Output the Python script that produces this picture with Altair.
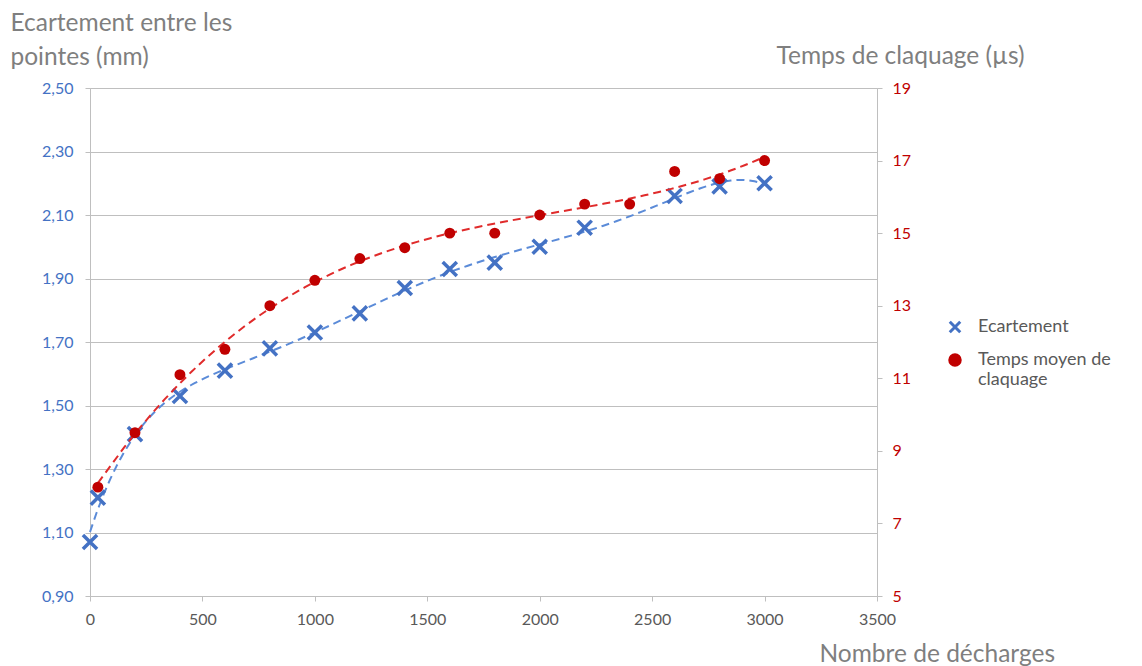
import altair as alt
import pandas as pd

# ---- data ----
x_ecart = [0, 35, 200, 400, 600, 800, 1000, 1200, 1400, 1600, 1800, 2000, 2200, 2600, 2800, 3000]
ecartement = [1.07, 1.21, 1.41, 1.53, 1.61, 1.68, 1.73, 1.79, 1.87, 1.93, 1.95, 2.00, 2.06, 2.16, 2.19, 2.20]

x_temps = [35, 200, 400, 600, 800, 1000, 1200, 1400, 1600, 1800, 2000, 2200, 2400, 2600, 2800, 3000]
temps = [8.0, 9.5, 11.1, 11.8, 13.0, 13.7, 14.3, 14.6, 15.0, 15.0, 15.5, 15.8, 15.8, 16.7, 16.5, 17.0]

series_names = ["Ecartement", "Temps moyen de claquage"]
x_ticks = [0, 500, 1000, 1500, 2000, 2500, 3000, 3500]
left_ticks = [0.9, 1.1, 1.3, 1.5, 1.7, 1.9, 2.1, 2.3, 2.5]
right_ticks = [5, 7, 9, 11, 13, 15, 17, 19]

BLUE = "#4472C4"
RED = "#C00000"
BLUE_LINE = "#5B8BD8"
RED_LINE = "#E02B2B"
GRAY_TXT = "#7f7f7f"
FONT = "Lato"

df_e = pd.DataFrame({"x": x_ecart, "value": ecartement, "series": series_names[0]})
df_t = pd.DataFrame({"x": x_temps, "value": temps, "series": series_names[1]})

XPATH = "M-1,-1L1,1M1,-1L-1,1"

legend_kw = dict(
    title=None, orient="none", legendX=856, legendY=230,
    labelFont=FONT, labelFontSize=18, labelColor="#595959",
    labelLimit=300, rowPadding=9, symbolStrokeWidth=3, symbolSize=110,
    labelOffset=14,
    labelExpr="datum.label == 'Temps moyen de claquage' ? ['Temps moyen de', 'claquage'] : datum.label",
)

color = alt.Color(
    "series:N",
    scale=alt.Scale(domain=series_names, range=[BLUE, RED]),
    legend=alt.Legend(**legend_kw),
)
shape = alt.Shape(
    "series:N",
    scale=alt.Scale(domain=series_names, range=[XPATH, "circle"]),
    legend=alt.Legend(**legend_kw),
)

x_enc = alt.X(
    "x:Q",
    scale=alt.Scale(domain=[0, 3500], nice=False),
    axis=alt.Axis(
        values=x_ticks, grid=False, format="d", labelFlush=False,
        labelColor="#595959", labelFont=FONT, labelFontSize=16, labelPadding=10,
        domainColor="#bfbfbf", tickColor="#bfbfbf", tickSize=5,
        title="Nombre de décharges", titleFont=FONT, titleFontSize=24.5,
        titleFontWeight="normal", titleColor=GRAY_TXT,
        titleAnchor="start", titleAlign="left", titleX=729, titleY=58,
        titleBaseline="middle",
    ),
)

y_left = alt.Y(
    "value:Q",
    scale=alt.Scale(domain=[0.9, 2.5], nice=False, zero=False),
    axis=alt.Axis(
        values=left_ticks, orient="left", grid=True, gridColor="#bfbfbf",
        labelExpr="replace(format(datum.value, '.2f'), '.', ',')",
        labelColor=BLUE, labelFont=FONT, labelFontSize=16, labelPadding=12,
        domainColor="#bfbfbf", tickColor="#bfbfbf", tickSize=5,
        title=["Ecartement entre les", "pointes (mm)"], titleFont=FONT,
        titleFontSize=24.5, titleFontWeight="normal", titleColor=GRAY_TXT,
        titleAngle=0, titleAlign="left", titleBaseline="top",
        titleX=-80, titleY=-77, titleLineHeight=34,
    ),
)

y_right = alt.Y(
    "value:Q",
    scale=alt.Scale(domain=[5, 19], nice=False, zero=False),
    axis=alt.Axis(
        values=right_ticks, orient="right", grid=False,
        labelColor=RED, labelFont=FONT, labelFontSize=16, labelPadding=10,
        domainColor="#bfbfbf", tickColor="#bfbfbf", tickSize=5,
        title="Temps de claquage (µs)", titleFont=FONT, titleFontSize=24.5,
        titleFontWeight="normal", titleColor=GRAY_TXT,
        titleAngle=0, titleAlign="left", titleBaseline="middle",
        titleX=-101, titleY=-32,
    ),
)

base_e = alt.Chart(df_e)
pts_e = base_e.mark_point(filled=False, strokeWidth=3.5, size=200, opacity=1).encode(
    x=x_enc, y=y_left, color=color, shape=shape
)
trend_e = base_e.transform_regression("x", "value", method="poly", order=6).mark_line(
    color=BLUE_LINE, strokeDash=[8, 5], strokeWidth=2
).encode(x=alt.X("x:Q"), y=alt.Y("value:Q"))

base_t = alt.Chart(df_t)
pts_t = base_t.mark_point(filled=True, size=120, opacity=1).encode(
    x=alt.X("x:Q"), y=y_right, color=color, shape=shape
)
trend_t = base_t.transform_regression("x", "value", method="poly", order=3).mark_line(
    color=RED_LINE, strokeDash=[8, 5], strokeWidth=2
).encode(x=alt.X("x:Q"), y=alt.Y("value:Q"))

left = alt.layer(trend_e, pts_e)
right = alt.layer(trend_t, pts_t)

chart = (
    alt.layer(left, right)
    .resolve_scale(y="independent")
    .properties(
        width=787, height=508,
        autosize=alt.AutoSizeParams(type="none"),
        padding={"left": 82, "top": 80, "right": 250, "bottom": 70},
    )
    .configure_view(stroke=None)
    .configure(font=FONT)
)

chart.save("out.html", embed_options={"renderer": "svg", "actions": False})
